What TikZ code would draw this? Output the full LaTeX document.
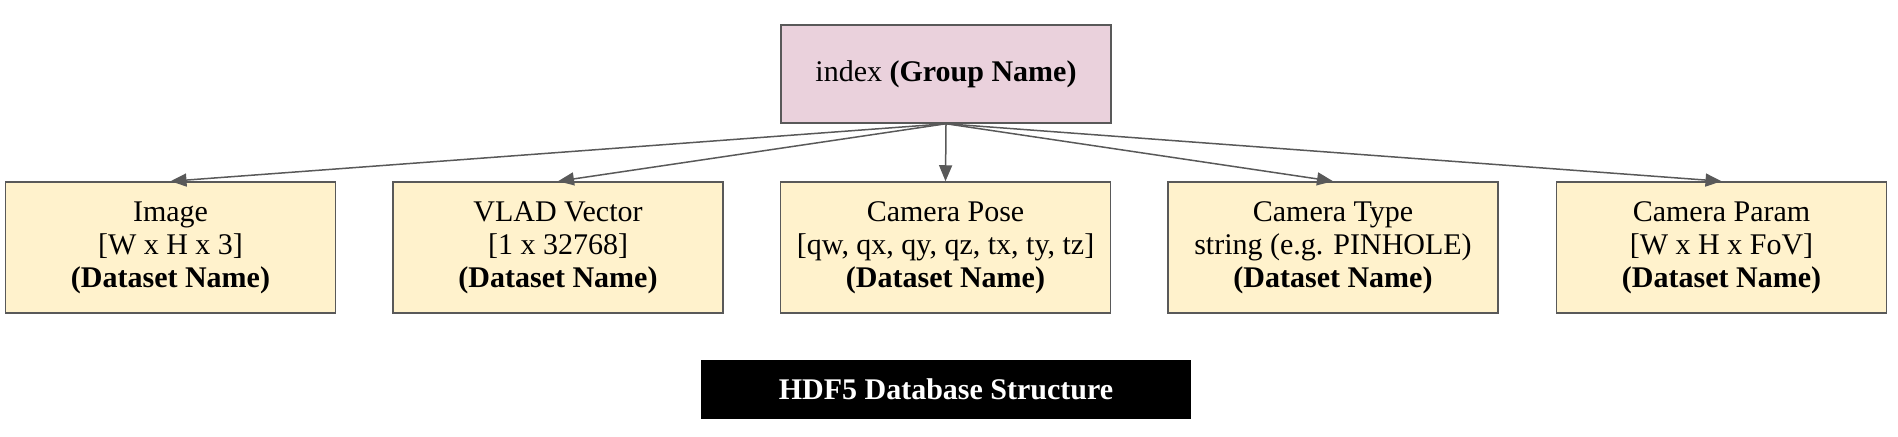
\documentclass[tikz,border=0pt]{standalone}
\usepackage{fontspec}
\setmainfont{Liberation Serif}
\usetikzlibrary{arrows.meta}
\definecolor{groupfill}{HTML}{EAD1DC}
\definecolor{datafill}{HTML}{FFF2CC}
\definecolor{edgegray}{HTML}{595959}
\tikzset{
  groupbox/.style={draw=edgegray, line width=0.75pt, fill=groupfill, minimum width=165pt, minimum height=49pt, inner sep=0pt, font=\fontsize{15}{17}\selectfont},
  databox/.style={draw=edgegray, line width=0.75pt, fill=datafill, minimum width=165pt, minimum height=65.5pt, inner sep=0pt, align=center, font=\fontsize{15}{16.5}\selectfont},
  titlebox/.style={fill=black, text=white, minimum width=245pt, minimum height=29.5pt, inner sep=0pt, font=\fontsize{15}{17}\selectfont\bfseries},
  link/.style={draw=edgegray, line width=0.75pt, -{Triangle[length=8pt,width=6.5pt]}}
}
\begin{document}
\begin{tikzpicture}[x=0.5pt, y=-0.5pt]
    \useasboundingbox (0,0) rectangle (1898,437);

    % Group
    \node[groupbox] (index) at (946,74) {index \textbf{(Group Name)}};

    % Datasets
    \node[databox] (image) at (170.5,247.5) {Image\\{}[W x H x 3]\\\textbf{(Dataset Name)}};
    \node[databox] (vlad) at (558,247.5) {VLAD Vector\\{}[1 x 32768]\\\textbf{(Dataset Name)}};
    \node[databox] (pose) at (945.5,247.5) {Camera Pose\\{}[qw, qx, qy, qz, tx, ty, tz]\\\textbf{(Dataset Name)}};
    \node[databox] (camtype) at (1333,247.5) {Camera Type\\string (e.g. PINHOLE)\\\textbf{(Dataset Name)}};
    \node[databox] (param) at (1721.5,247.5) {Camera Param\\{}[W x H x FoV]\\\textbf{(Dataset Name)}};

    % Links
    \foreach \ds in {image, vlad, pose, camtype, param}
        \draw[link] (index.south) -- (\ds.north);

    % Caption
    \node[titlebox] (caption) at (946,389.5) {HDF5 Database Structure};
\end{tikzpicture}
\end{document}
